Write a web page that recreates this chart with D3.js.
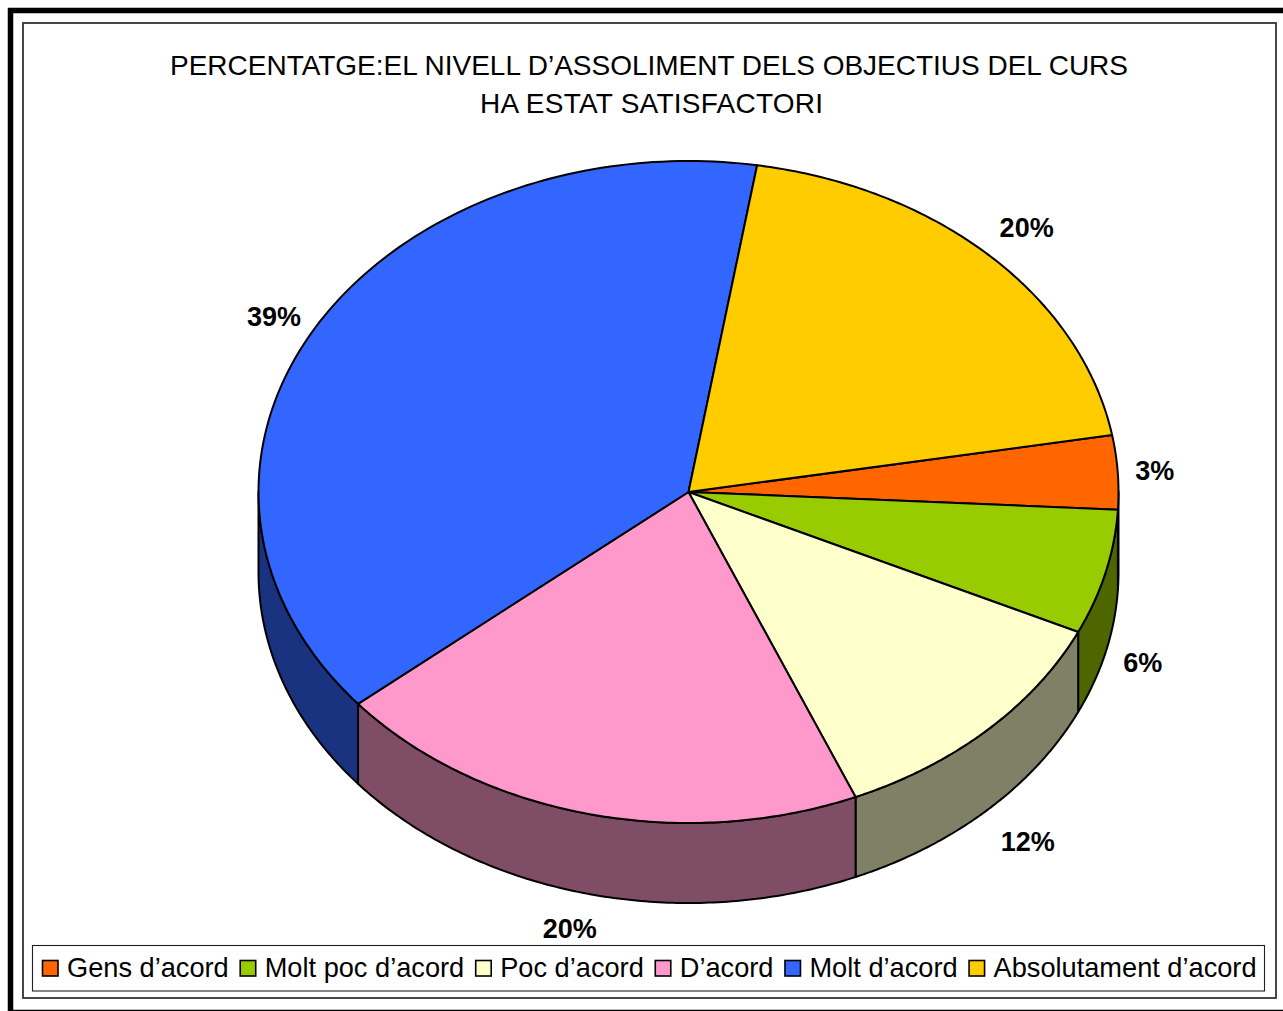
<!DOCTYPE html>
<html>
<head>
<meta charset="utf-8">
<script src="https://cdn.jsdelivr.net/npm/d3@7"></script>
<style>
html,body{margin:0;padding:0;background:#fff;overflow:hidden}
svg{display:block}
text{font-family:"Liberation Sans",Arial,sans-serif;fill:#000}
</style>
</head>
<body>
<svg id="chart" width="1283" height="1011"></svg>
<script>
const categories = ["Gens d’acord","Molt poc d’acord","Poc d’acord","D’acord","Molt d’acord","Absolutament d’acord"];
const values = [3.6,6.1,11.7,20.3,38.6,19.7];
const valueLabels = ["3%","6%","12%","20%","39%","20%"];
const colors = ["#FF6600","#99CC00","#FFFFCC","#FF99CC","#3366FF","#FFCC00"];
const titleLines = ["PERCENTATGE:EL NIVELL D’ASSOLIMENT DELS OBJECTIUS DEL CURS","HA ESTAT SATISFACTORI"];

const W = 1283, H = 1011;
const cx = 688.5, cy = 492, rx = 430, ry = 331, depth = 80;
const labelNudge = [[37,-1],[37,11],[41,32],[-17,35],[-41,-11],[36,-28]];
const titleLayout = [{x:649,y:75,len:958},{x:651.5,y:113,len:343}];
const svg = d3.select("#chart");

// frames
svg.append("rect").attr("x",10.5).attr("y",10.5).attr("width",W+20).attr("height",H-9)
  .attr("fill","#fff").attr("stroke","#000").attr("stroke-width",5.5);
svg.append("rect").attr("x",23).attr("y",23).attr("width",1253).attr("height",975)
  .attr("fill","#fff").attr("stroke","#333").attr("stroke-width",1.8);

// title
svg.append("g").selectAll("text").data(titleLines).join("text")
  .attr("x",(d,i)=>titleLayout[i].x).attr("y",(d,i)=>titleLayout[i].y)
  .attr("text-anchor","middle")
  .attr("textLength",(d,i)=>titleLayout[i].len).attr("lengthAdjust","spacing")
  .attr("font-size",28).text(d=>d);

// pie geometry (d3 angles: clockwise from 12 o'clock)
const startAngle = (80.1)*Math.PI/180;
const pie = d3.pie().sort(null).value(d=>d).startAngle(startAngle).endAngle(startAngle+2*Math.PI);
const arcs = pie(values);
const px = a => cx + rx*Math.sin(a);
const py = a => cy - ry*Math.cos(a);
const sample = (a0,a1) => d3.range(0,121).map(i=>a0+(a1-a0)*i/120);
const line = d3.line();
const shade = hex => { const c = d3.rgb(hex); return d3.rgb(c.r*0.5,c.g*0.5,c.b*0.5).formatHex(); };

// side wall: only the front half (angles between PI/2 and 3PI/2, modulo full turn)
const walls = [];
arcs.forEach((d,i)=>{
  [0,2*Math.PI].forEach(k=>{
    const a0 = Math.max(d.startAngle, Math.PI/2+k);
    const a1 = Math.min(d.endAngle, 3*Math.PI/2+k);
    if(a1>a0) walls.push({a0,a1,i});
  });
});
walls.sort((a,b)=>a.a0-b.a0);
svg.append("g").selectAll("path").data(walls).join("path")
  .attr("d",w=>{
    const top = sample(w.a0,w.a1).map(a=>[px(a),py(a)]);
    const bot = sample(w.a1,w.a0).map(a=>[px(a),py(a)+depth]);
    return line(top.concat(bot))+"Z";
  })
  .attr("fill",w=>shade(colors[w.i]))
  .attr("stroke","#000").attr("stroke-width",2).attr("stroke-linejoin","round");

// top faces
svg.append("g").selectAll("path").data(arcs).join("path")
  .attr("d",d=>{
    const pts = [[cx,cy]].concat(sample(d.startAngle,d.endAngle).map(a=>[px(a),py(a)]));
    return line(pts)+"Z";
  })
  .attr("fill",(d,i)=>colors[i])
  .attr("stroke","#000").attr("stroke-width",2).attr("stroke-linejoin","round");

// data labels
svg.append("g").selectAll("text").data(arcs).join("text")
  .attr("x",(d,i)=>px((d.startAngle+d.endAngle)/2)+labelNudge[i][0])
  .attr("y",(d,i)=>{
    const m=(d.startAngle+d.endAngle)/2;
    const front=Math.sin(m-Math.PI/2)>0.1; // sits below the wall
    return py(m)+(front?depth:0)+labelNudge[i][1]+9;
  })
  .attr("text-anchor","middle").attr("font-size",27).attr("font-weight","bold")
  .text((d,i)=>valueLabels[i]);

// legend
svg.append("rect").attr("x",32.5).attr("y",945.5).attr("width",1232).attr("height",45.5)
  .attr("fill","#fff").attr("stroke","#222").attr("stroke-width",1.1);
const legend = svg.append("g");
let lx = 42;
categories.forEach((c,i)=>{
  legend.append("rect").attr("x",lx+0.5).attr("y",960.5).attr("width",15.5).attr("height",15.5)
    .attr("fill",colors[i]).attr("stroke","#000").attr("stroke-width",1.6);
  const t = legend.append("text").attr("x",lx+25).attr("y",977).attr("font-size",27.2).text(c);
  lx += 25 + t.node().getComputedTextLength() + 11;
});
</script>
</body>
</html>
